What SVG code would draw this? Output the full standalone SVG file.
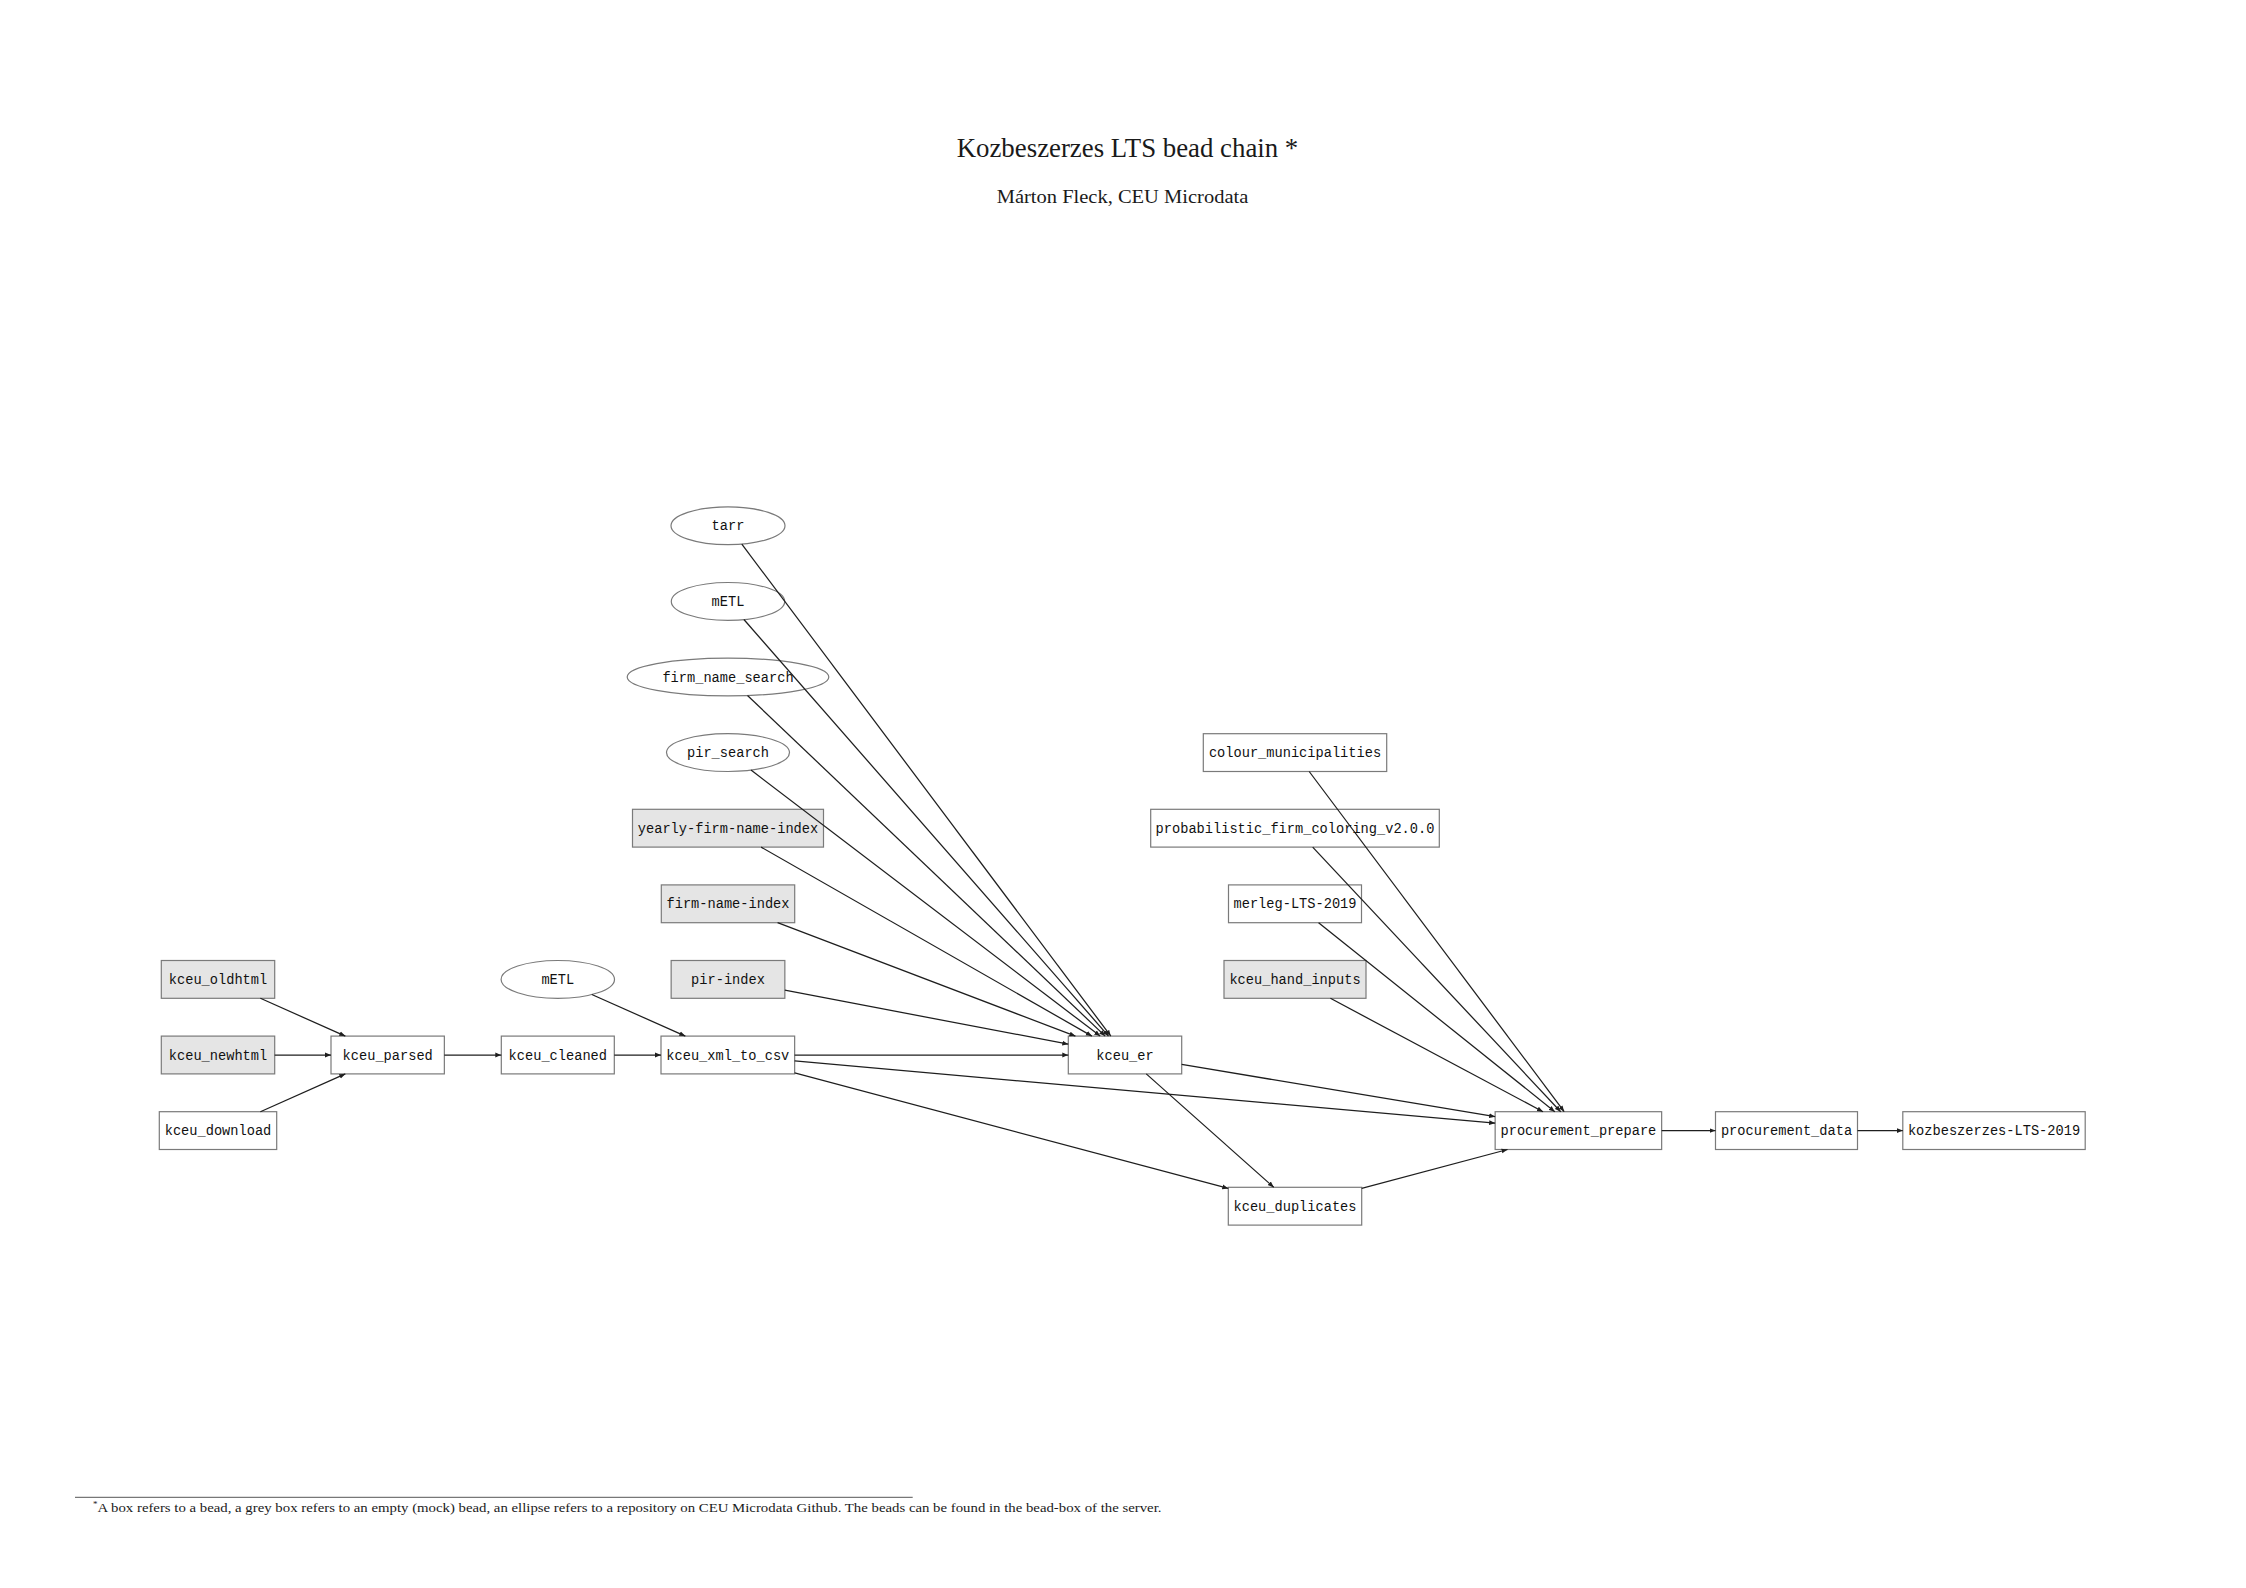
<svg xmlns="http://www.w3.org/2000/svg" width="2246" height="1588" viewBox="0 0 2246 1588">
<style>
.bx{fill:#ffffff;stroke:#7a7a7a;stroke-width:1.2}
.gr{fill:#e5e5e5;stroke:#7a7a7a;stroke-width:1.2}
.el{fill:#ffffff;stroke:#7a7a7a;stroke-width:1.2}
.lb{font-family:"Liberation Mono","DejaVu Sans Mono",monospace;font-size:14.5px;fill:#111111;text-anchor:middle}
.ed line{stroke:#1e1e1e;stroke-width:1.25;fill:none}
.serif{font-family:"Liberation Serif","DejaVu Serif",serif;fill:#1a1a1a}
</style>
<defs>
<marker id="ah" markerUnits="userSpaceOnUse" viewBox="0 0 6 6" refX="6" refY="3" markerWidth="6" markerHeight="6" orient="auto">
<path d="M0,0.6 L6,3 L0,5.4 Z" fill="#1e1e1e"/>
</marker>
</defs>
<rect width="2246" height="1588" fill="#ffffff"/>

<g id="title">
<text class="serif" x="956.7" y="156.7" font-size="28" textLength="341.6" lengthAdjust="spacingAndGlyphs">Kozbeszerzes LTS bead chain *</text>
<text class="serif" x="996.7" y="203.3" font-size="19" textLength="251.6" lengthAdjust="spacingAndGlyphs">Márton Fleck, CEU Microdata</text>
</g>

<g id="kceu_oldhtml"><rect class="gr" x="161.3" y="960.5" width="113.4" height="37.8"/><text class="lb" x="218" y="984" textLength="98.4" lengthAdjust="spacingAndGlyphs">kceu_oldhtml</text></g>
<g id="kceu_newhtml"><rect class="gr" x="161.3" y="1036.1" width="113.4" height="37.8"/><text class="lb" x="218" y="1059.6" textLength="98.4" lengthAdjust="spacingAndGlyphs">kceu_newhtml</text></g>
<g id="kceu_download"><rect class="bx" x="159.3" y="1111.7" width="117.4" height="37.8"/><text class="lb" x="218" y="1135.2" textLength="106.6" lengthAdjust="spacingAndGlyphs">kceu_download</text></g>
<g id="kceu_parsed"><rect class="bx" x="331" y="1036.1" width="113.35" height="37.8"/><text class="lb" x="387.7" y="1059.6" textLength="90.2" lengthAdjust="spacingAndGlyphs">kceu_parsed</text></g>
<g id="kceu_cleaned"><rect class="bx" x="501.3" y="1036.1" width="113" height="37.8"/><text class="lb" x="557.8" y="1059.6" textLength="98.4" lengthAdjust="spacingAndGlyphs">kceu_cleaned</text></g>
<g id="mETL_low"><ellipse class="el" cx="557.8" cy="979.4" rx="56.7" ry="18.9"/><text class="lb" x="557.8" y="984" textLength="32.8" lengthAdjust="spacingAndGlyphs">mETL</text></g>
<g id="kceu_xml_to_csv"><rect class="bx" x="661" y="1036.1" width="133.65" height="37.8"/><text class="lb" x="727.8" y="1059.6" textLength="123" lengthAdjust="spacingAndGlyphs">kceu_xml_to_csv</text></g>
<g id="tarr"><ellipse class="el" cx="728" cy="525.8" rx="57" ry="18.9"/><text class="lb" x="728" y="530.4" textLength="32.8" lengthAdjust="spacingAndGlyphs">tarr</text></g>
<g id="mETL_top"><ellipse class="el" cx="728" cy="601.4" rx="56.7" ry="18.9"/><text class="lb" x="728" y="606" textLength="32.8" lengthAdjust="spacingAndGlyphs">mETL</text></g>
<g id="firm_name_search"><ellipse class="el" cx="728" cy="677" rx="100.8" ry="18.9"/><text class="lb" x="728" y="681.6" textLength="131.2" lengthAdjust="spacingAndGlyphs">firm_name_search</text></g>
<g id="pir_search"><ellipse class="el" cx="728" cy="752.6" rx="61.5" ry="18.9"/><text class="lb" x="728" y="757.2" textLength="82" lengthAdjust="spacingAndGlyphs">pir_search</text></g>
<g id="yearly-firm-name-index"><rect class="gr" x="632.5" y="809.3" width="191" height="37.8"/><text class="lb" x="728" y="832.8" textLength="180.4" lengthAdjust="spacingAndGlyphs">yearly-firm-name-index</text></g>
<g id="firm-name-index"><rect class="gr" x="661.3" y="884.9" width="133.4" height="37.8"/><text class="lb" x="728" y="908.4" textLength="123" lengthAdjust="spacingAndGlyphs">firm-name-index</text></g>
<g id="pir-index"><rect class="gr" x="671.15" y="960.5" width="113.7" height="37.8"/><text class="lb" x="728" y="984" textLength="73.8" lengthAdjust="spacingAndGlyphs">pir-index</text></g>
<g id="kceu_er"><rect class="bx" x="1068.3" y="1036.1" width="113.4" height="37.8"/><text class="lb" x="1125" y="1059.6" textLength="57.4" lengthAdjust="spacingAndGlyphs">kceu_er</text></g>
<g id="colour_municipalities"><rect class="bx" x="1203.3" y="733.7" width="183.4" height="37.8"/><text class="lb" x="1295" y="757.2" textLength="172.2" lengthAdjust="spacingAndGlyphs">colour_municipalities</text></g>
<g id="probabilistic_firm_coloring_v2.0.0"><rect class="bx" x="1150.7" y="809.3" width="288.6" height="37.8"/><text class="lb" x="1295" y="832.8" textLength="278.8" lengthAdjust="spacingAndGlyphs">probabilistic_firm_coloring_v2.0.0</text></g>
<g id="merleg-LTS-2019"><rect class="bx" x="1228.5" y="884.9" width="133" height="37.8"/><text class="lb" x="1295" y="908.4" textLength="123" lengthAdjust="spacingAndGlyphs">merleg-LTS-2019</text></g>
<g id="kceu_hand_inputs"><rect class="gr" x="1224" y="960.5" width="142" height="37.8"/><text class="lb" x="1295" y="984" textLength="131.2" lengthAdjust="spacingAndGlyphs">kceu_hand_inputs</text></g>
<g id="kceu_duplicates"><rect class="bx" x="1228.3" y="1187.3" width="133.4" height="37.8"/><text class="lb" x="1295" y="1210.8" textLength="123" lengthAdjust="spacingAndGlyphs">kceu_duplicates</text></g>
<g id="procurement_prepare"><rect class="bx" x="1495.15" y="1111.7" width="166.5" height="37.8"/><text class="lb" x="1578.4" y="1135.2" textLength="155.8" lengthAdjust="spacingAndGlyphs">procurement_prepare</text></g>
<g id="procurement_data"><rect class="bx" x="1715.5" y="1111.7" width="142" height="37.8"/><text class="lb" x="1786.5" y="1135.2" textLength="131.2" lengthAdjust="spacingAndGlyphs">procurement_data</text></g>
<g id="kozbeszerzes-LTS-2019"><rect class="bx" x="1902.8" y="1111.7" width="182.4" height="37.8"/><text class="lb" x="1994" y="1135.2" textLength="172.2" lengthAdjust="spacingAndGlyphs">kozbeszerzes-LTS-2019</text></g>

<g id="connectors" class="ed">
<line x1="260.4" y1="998.3" x2="345.3" y2="1036.1" marker-end="url(#ah)"/>
<line x1="274.7" y1="1055" x2="331" y2="1055" marker-end="url(#ah)"/>
<line x1="260.4" y1="1111.7" x2="345.3" y2="1073.9" marker-end="url(#ah)"/>
<line x1="444.35" y1="1055" x2="501.3" y2="1055" marker-end="url(#ah)"/>
<line x1="614.3" y1="1055" x2="661" y2="1055" marker-end="url(#ah)"/>
<line x1="591.8" y1="994.5" x2="685.3" y2="1036.1" marker-end="url(#ah)"/>
<line x1="741.8" y1="544.1" x2="1110.8" y2="1036.1" marker-end="url(#ah)"/>
<line x1="743.9" y1="619.5" x2="1108.5" y2="1036.1" marker-end="url(#ah)"/>
<line x1="747.5" y1="695.5" x2="1105.2" y2="1036.1" marker-end="url(#ah)"/>
<line x1="751.0" y1="770.1" x2="1100.2" y2="1036.1" marker-end="url(#ah)"/>
<line x1="761.1" y1="847.1" x2="1091.9" y2="1036.1" marker-end="url(#ah)"/>
<line x1="777.6" y1="922.7" x2="1075.4" y2="1036.1" marker-end="url(#ah)"/>
<line x1="784.85" y1="990.2" x2="1068.3" y2="1044.2" marker-end="url(#ah)"/>
<line x1="794.65" y1="1055" x2="1068.3" y2="1055" marker-end="url(#ah)"/>
<line x1="794.65" y1="1060.9" x2="1495.15" y2="1123.2" marker-end="url(#ah)"/>
<line x1="794.65" y1="1072.8" x2="1228.3" y2="1188.4" marker-end="url(#ah)"/>
<line x1="1181.7" y1="1064.45" x2="1495.15" y2="1116.7" marker-end="url(#ah)"/>
<line x1="1146.25" y1="1073.9" x2="1273.75" y2="1187.3" marker-end="url(#ah)"/>
<line x1="1309.2" y1="771.5" x2="1564.2" y2="1111.7" marker-end="url(#ah)"/>
<line x1="1312.7" y1="847.1" x2="1560.7" y2="1111.7" marker-end="url(#ah)"/>
<line x1="1318.6" y1="922.7" x2="1554.8" y2="1111.7" marker-end="url(#ah)"/>
<line x1="1330.4" y1="998.3" x2="1543.0" y2="1111.7" marker-end="url(#ah)"/>
<line x1="1361.7" y1="1188.4" x2="1507.55" y2="1149.5" marker-end="url(#ah)"/>
<line x1="1661.65" y1="1130.6" x2="1715.5" y2="1130.6" marker-end="url(#ah)"/>
<line x1="1857.5" y1="1130.6" x2="1902.8" y2="1130.6" marker-end="url(#ah)"/>
</g>

<g id="footnote">
<line x1="75" y1="1497.3" x2="912.7" y2="1497.3" stroke="#555555" stroke-width="1"/>
<text class="serif" x="93" y="1507" font-size="9">*</text>
<text class="serif" x="97.5" y="1511.7" font-size="13" textLength="1064" lengthAdjust="spacingAndGlyphs">A box refers to a bead, a grey box refers to an empty (mock) bead, an ellipse refers to a repository on CEU Microdata Github. The beads can be found in the bead-box of the server.</text>
</g>
</svg>
